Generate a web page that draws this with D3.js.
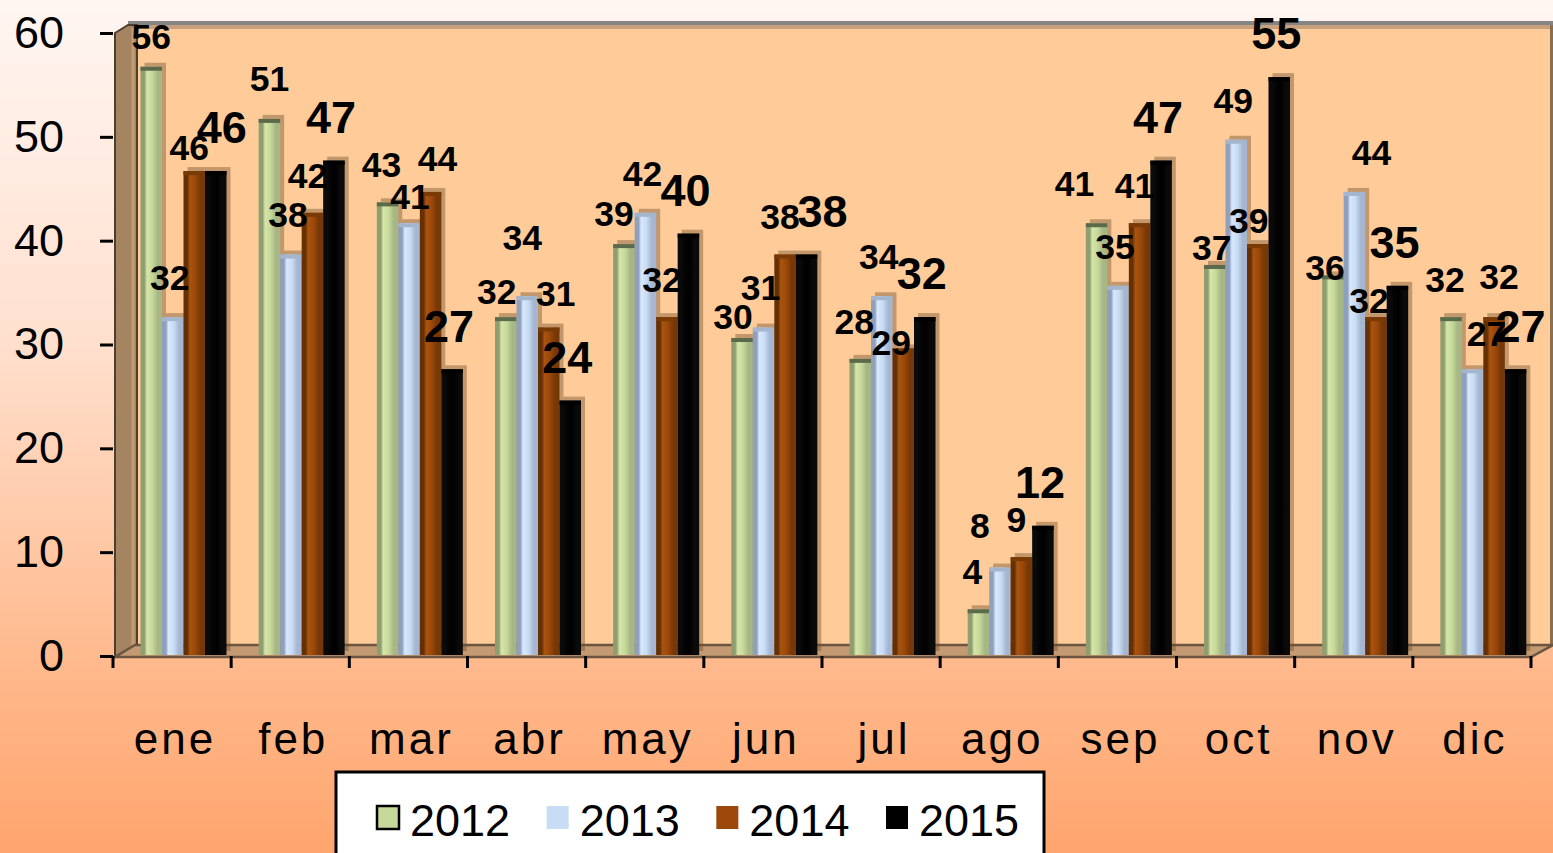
<!DOCTYPE html>
<html>
<head>
<meta charset="utf-8">
<script src="https://cdn.jsdelivr.net/npm/d3@7"></script>
<style>
  html, body { margin: 0; padding: 0; overflow: hidden; }
  svg { display: block; font-family: "Liberation Sans", Arial, sans-serif; }
</style>
</head>
<body>
<div id="chart"></div>
<script>
// months and series values
const months = ["ene", "feb", "mar", "abr", "may", "jun", "jul", "ago", "sep", "oct", "nov", "dic"];
const years = ["2012", "2013", "2014", "2015"];
const v2012 = [56, 51, 43, 32, 39, 30, 28, 4, 41, 37, 36, 32];
const v2013 = [32, 38, 41, 34, 42, 31, 34, 8, 35, 49, 44, 27];
const v2014 = [46, 42, 44, 31, 32, 38, 29, 9, 41, 39, 32, 32];
const v2015 = [46, 47, 27, 24, 40, 38, 32, 12, 47, 55, 35, 27];
const yTicks = [0, 10, 20, 30, 40, 50, 60];

const W = 1553, H = 853;

// series look
const style = {
	"2012": { edgeL: "#8e9e70", light: "#d6e6a8", mid: "#c6d99a", edgeR: "#a6b684", cap: "#5c6a4c", font: 35.5, dx: -6, dy: -38 },
	"2013": { edgeL: "#8ea0bc", light: "#d8e8fe", mid: "#c8dcf4", edgeR: "#a6b6d0", cap: "#a4b6ce", font: 35.5, dx: -3, dy: -40 },
	"2014": { edgeL: "#643004", light: "#aa5410", mid: "#9c480a", edgeR: "#763806", cap: "#7a3a06", font: 35.5, dx: -5, dy: -38 },
	"2015": { edgeL: "#0a0a0a", light: "#050505", mid: "#000000", edgeR: "#0a0a0a", cap: "#000000", font: 45, dx: -3, dy: -44 }
};
// Excel moved some labels around; small nudges relative to the default
const nudge = {
	"2012|ene": [6, 7], "2012|feb": [6, -3], "2012|abr": [-3, 12], "2012|may": [-4, 7],
	"2012|jun": [-3, 16], "2012|sep": [-16, -2], "2012|oct": [3, 20], "2012|nov": [-2, 30],
	"2013|mar": [4, 13], "2013|abr": [-2, -19], "2013|ago": [-17, -2], "2013|nov": [20, 0], "2013|dic": [17, 4],
	"2014|ene": [0, 14], "2014|mar": [12, 4], "2014|abr": [12, 4], "2014|jul": [-7, 32],
	"2014|oct": [-4, 14], "2014|nov": [-2, 21], "2014|dic": [10, -3],
	"2015|ene": [9, 0], "2015|jun": [19, 0], "2015|dic": [8, 0]
};

const data = months.map((m, i) => ({
	month: m,
	values: [
		{ year: "2012", v: v2012[i] },
		{ year: "2013", v: v2013[i] },
		{ year: "2014", v: v2014[i] },
		{ year: "2015", v: v2015[i] }
	]
}));

const svg = d3.select("#chart").append("svg")
	.attr("width", W).attr("height", H);
const defs = svg.append("defs");

// page background
const bg = defs.append("linearGradient").attr("id", "bg")
	.attr("x1", 0).attr("y1", 0).attr("x2", 0).attr("y2", 1);
bg.append("stop").attr("offset", 0).attr("stop-color", "#fff6f2");
bg.append("stop").attr("offset", 0.4).attr("stop-color", "#ffe0ce");
bg.append("stop").attr("offset", 0.78).attr("stop-color", "#ffb98c");
bg.append("stop").attr("offset", 1).attr("stop-color", "#ffa56e");
svg.append("rect").attr("width", W).attr("height", H).attr("fill", "url(#bg)");

years.forEach(y => {
	const s = style[y];
	const g = defs.append("linearGradient").attr("id", "g" + y);
	[[0, s.edgeL], [0.18, s.edgeL], [0.3, s.light], [0.55, s.mid], [0.8, s.edgeR], [1, s.edgeR]]
		.forEach(([o, c]) => g.append("stop").attr("offset", o).attr("stop-color", c));
});

// scales
const x0 = d3.scaleBand().domain(months).range([113, 1531]);
const x1 = d3.scaleBand().domain(years).range([27.5, 113.5]);
const yBar = d3.scaleLinear().domain([0, 60]).range([651, 25]);
const yAx = d3.scaleLinear().domain([0, 60]).range([656, 33]);
const base = 655;

// 3D box: back wall, left wall, floor
svg.append("rect").attr("x", 128).attr("y", 21).attr("width", W - 128).attr("height", 4).attr("fill", "#858585");
svg.append("rect").attr("x", 133).attr("y", 25).attr("width", W - 133).attr("height", 4).attr("fill", "#c9a07c");
svg.append("rect").attr("x", 135).attr("y", 29).attr("width", W - 137).attr("height", 616).attr("fill", "#ffcc99");
svg.append("line").attr("x1", W - 1.5).attr("x2", W - 1.5).attr("y1", 25).attr("y2", 645)
	.attr("stroke", "#8a7050").attr("stroke-width", 3);
svg.append("polygon")
	.attr("points", "115,33 128,25 137,25 137,645 115,657")
	.attr("fill", "#a58462").attr("stroke", "#4e3e2e").attr("stroke-width", 2);
svg.append("line").attr("x1", 133).attr("x2", 133).attr("y1", 28).attr("y2", 646)
	.attr("stroke", "#c49c76").attr("stroke-width", 3);
svg.append("polygon")
	.attr("points", `115,657 135,645 ${W},645 1531,657`)
	.attr("fill", "#c49a72").attr("stroke", "#6b5540").attr("stroke-width", 2.5);

// bars
const groups = svg.append("g").selectAll("g.month")
	.data(data).join("g")
	.attr("class", "month")
	.attr("transform", d => `translate(${x0(d.month)},0)`);

const bar = groups.selectAll("g.bar")
	.data(d => d.values.map(v => ({ ...v, month: d.month })))
	.join("g").attr("class", "bar");

// side / top face of each column
bar.append("rect")
	.attr("x", d => x1(d.year) + 4)
	.attr("y", d => yBar(d.v) - 4)
	.attr("width", x1.bandwidth())
	.attr("height", d => base - yBar(d.v))
	.attr("fill", "#6e4e2e").attr("fill-opacity", 0.42);

bar.append("rect")
	.attr("x", d => x1(d.year))
	.attr("y", d => yBar(d.v))
	.attr("width", x1.bandwidth())
	.attr("height", d => base - yBar(d.v))
	.attr("fill", d => `url(#g${d.year})`);

bar.append("rect")
	.attr("x", d => x1(d.year))
	.attr("y", d => yBar(d.v))
	.attr("width", x1.bandwidth())
	.attr("height", 4)
	.attr("fill", d => style[d.year].cap);

// y axis
const yAxis = svg.append("g")
	.attr("transform", "translate(113,0)")
	.call(d3.axisLeft(yAx).tickValues(yTicks).tickSize(13).tickPadding(36));
yAxis.select(".domain").remove();
yAxis.selectAll(".tick line").attr("stroke", "#000").attr("stroke-width", 3);
yAxis.selectAll(".tick text")
	.attr("font-size", 45).attr("fill", "#000")
	.attr("font-family", "'Liberation Sans', Arial, sans-serif");

// x axis: boundary ticks and month labels
const bounds = d3.range(months.length + 1).map(i => x0.range()[0] + i * x0.step());
svg.append("g").selectAll("line")
	.data(bounds).join("line")
	.attr("x1", d => d).attr("x2", d => d)
	.attr("y1", 656).attr("y2", 668)
	.attr("stroke", "#000").attr("stroke-width", 3);

svg.append("g").selectAll("text")
	.data(months).join("text")
	.attr("x", d => x0(d) + x0.bandwidth() / 2 + 3)
	.attr("y", 754)
	.attr("text-anchor", "middle")
	.attr("font-size", 44)
	.attr("letter-spacing", 3)
	.text(d => d);

// data labels
svg.append("g").selectAll("text")
	.data(data.flatMap(d => d.values.map(v => ({ ...v, month: d.month }))))
	.join("text")
	.attr("x", d => {
		const n = nudge[d.year + "|" + d.month] || [0, 0];
		return x0(d.month) + x1(d.year) + x1.bandwidth() / 2 + style[d.year].dx + n[0];
	})
	.attr("y", d => {
		const n = nudge[d.year + "|" + d.month] || [0, 0];
		return yBar(d.v) + style[d.year].dy + n[1] + style[d.year].font * 0.36;
	})
	.attr("text-anchor", "middle")
	.attr("font-weight", "bold")
	.attr("font-size", d => style[d.year].font)
	.text(d => d.v);

// legend
const legend = svg.append("g");
legend.append("rect")
	.attr("x", 336).attr("y", 772).attr("width", 708).attr("height", 120)
	.attr("fill", "#fff").attr("stroke", "#000").attr("stroke-width", 3);
const legendX = d3.scalePoint().domain(years).range([377, 886]);
const li = legend.selectAll("g.item").data(years).join("g")
	.attr("class", "item")
	.attr("transform", d => `translate(${legendX(d)},0)`);
li.append("rect")
	.attr("x", 0).attr("y", 806).attr("width", 22).attr("height", 23)
	.attr("fill", d => style[d].mid)
	.attr("stroke", d => d === "2012" ? "#000" : "none")
	.attr("stroke-width", 2.5);
li.append("text")
	.attr("x", 33).attr("y", 836)
	.attr("font-size", 45)
	.text(d => d);
</script>
</body>
</html>
